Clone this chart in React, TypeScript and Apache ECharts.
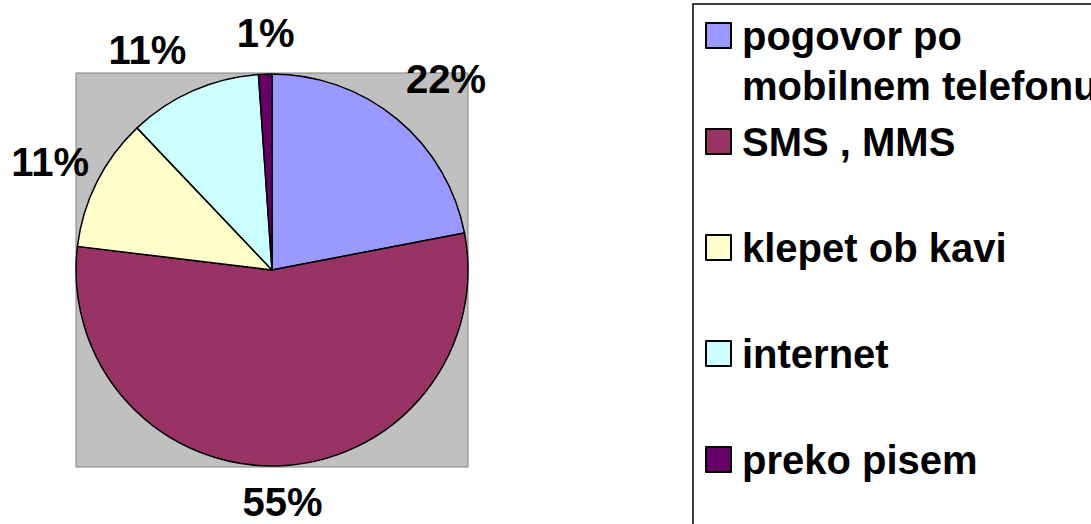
import React, { useEffect, useRef } from "react";
import * as echarts from "echarts";

const categories = [
  "pogovor po mobilnem telefonu",
  "SMS , MMS",
  "klepet ob kavi",
  "internet",
  "preko pisem",
];
const values = [20, 50, 10, 10, 1];
const colors = ["#9999FF", "#993366", "#FFFFCC", "#CCFFFF", "#660066"];

const FONT = "'Liberation Sans', Arial, sans-serif";
const FS = 40;
const CX = 272;
const CY = 270;
const R = 196;
const LABEL_R = 245;
const labelNudge: [number, number][] = [
  [18, -2],
  [2, -13],
  [-3, 2],
  [-26, 4],
  [2, 8],
];

export default function App() {
  const ref = useRef<HTMLDivElement>(null);
  useEffect(() => {
    if (!ref.current) return;
    const chart = echarts.init(ref.current, null, { renderer: "svg" });
    const total = values.reduce((a, b) => a + b, 0);
    const cum: number[] = [];
    let acc = 0;
    values.forEach((v) => {
      cum.push(acc);
      acc += v;
    });
    chart.setOption({
      animation: false,
      backgroundColor: "#ffffff",
      color: colors,
      graphic: [
        {
          type: "rect",
          z: -10,
          shape: { x: 76, y: 73, width: 392, height: 394 },
          style: { fill: "#C0C0C0", stroke: "#808080", lineWidth: 1 },
          silent: true,
        },
        {
          type: "rect",
          shape: { x: 693, y: 4, width: 500, height: 600 },
          style: { fill: "none", stroke: "#000000", lineWidth: 1.5 },
          silent: true,
        },
        {
          type: "text",
          x: 742,
          y: 85.5,
          style: {
            text: "mobilnem telefonu",
            font: `bold ${FS}px ${FONT}`,
            fill: "#000000",
            verticalAlign: "middle",
            align: "left",
          },
          silent: true,
        },
      ],
      legend: {
        orient: "vertical",
        left: 705,
        top: 13.5,
        padding: 0,
        itemWidth: 25,
        itemHeight: 25,
        itemGap: 62,
        icon: "rect",
        formatter: (name: string) =>
          name === categories[0] ? "pogovor po" : name,
        textStyle: {
          fontFamily: FONT,
          fontWeight: "bold",
          fontSize: FS,
          lineHeight: 44,
          color: "#000000",
          padding: [0, 0, 0, 6],
        },
        data: categories,
      },
      series: [
        {
          type: "pie",
          center: [CX, CY],
          radius: [0, R],
          startAngle: 90,
          clockwise: true,
          itemStyle: { borderColor: "#000000", borderWidth: 1.5 },
          label: {
            show: true,
            position: "outside",
            overflow: "none",
            formatter: (p: any) => `${Math.round(p.percent)}%`,
            fontFamily: FONT,
            fontWeight: "bold",
            fontSize: FS,
            color: "#000000",
          },
          labelLine: { show: false },
          labelLayout: (p: any) => {
            const i = p.dataIndex;
            const mid = ((cum[i] + values[i] / 2) / total) * Math.PI * 2;
            return {
              x: CX + Math.sin(mid) * LABEL_R + labelNudge[i][0],
              y: CY - Math.cos(mid) * LABEL_R + labelNudge[i][1],
              align: "center",
              verticalAlign: "middle",
            };
          },
          emphasis: { disabled: true },
          data: categories.map((name, i) => ({ name, value: values[i] })),
        },
      ],
    });
    return () => chart.dispose();
  }, []);
  return (
    <div
      ref={ref}
      style={{
        position: "fixed",
        left: 0,
        top: 0,
        width: 1091,
        height: 524,
        background: "#fff",
      }}
    />
  );
}
